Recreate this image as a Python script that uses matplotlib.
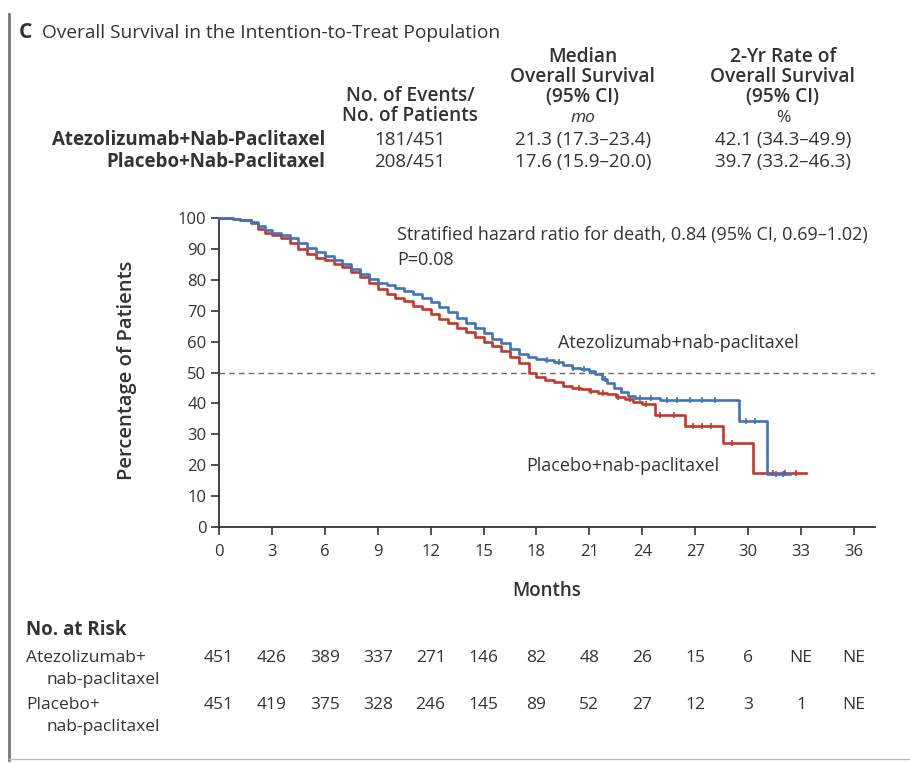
import matplotlib
matplotlib.use("Agg")
import matplotlib.pyplot as plt
import matplotlib.transforms as mtransforms
from matplotlib.lines import Line2D

plt.rcParams["font.family"] = ["Open Sans", "DejaVu Sans"]

# --- data ------------------------------------------------------------------
atezo_t = [0, 0.8, 1.2, 1.8, 2.2, 2.6, 3.0, 3.5, 4.0, 4.5, 5.0, 5.5, 6.0, 6.5, 7.0, 7.5,
           8.0, 8.5, 9.0, 9.5, 10.0, 10.5, 11.0, 11.5, 12.0, 12.5, 13.0, 13.5, 14.0, 14.5,
           15.0, 15.5, 16.0, 16.5, 17.0, 17.5, 18.0, 18.5, 19.0, 19.5, 20.0, 20.5, 21.0,
           21.3, 21.7, 22.0, 22.4, 22.8, 23.2, 23.6, 25.0, 29.5, 31.1, 32.4]
atezo_s = [100, 99.6, 99.3, 98.6, 97.4, 96.0, 95.0, 94.4, 93.4, 92.0, 90.4, 89.0, 87.6,
           86.5, 85.0, 83.5, 82.0, 80.2, 79.0, 78.4, 77.5, 76.5, 75.4, 74.0, 72.8, 71.3,
           69.5, 67.6, 66.0, 64.4, 62.8, 61.0, 59.4, 57.6, 56.0, 55.0, 54.4, 54.0, 53.4,
           52.5, 51.6, 51.0, 50.4, 49.4, 48.0, 46.5, 45.0, 43.6, 42.4, 41.8, 41.0, 34.2,
           17.3, 17.3]
atezo_cens = [18.6, 19.3, 20.1, 20.7, 21.9, 23.9, 24.5, 25.4, 26.0, 26.7, 27.4, 28.1,
              29.9, 30.4, 31.6, 32.0]

placebo_t = [0, 0.8, 1.2, 1.8, 2.2, 2.6, 3.0, 3.5, 4.0, 4.5, 5.0, 5.5, 6.0, 6.5, 7.0, 7.5,
             8.0, 8.5, 9.0, 9.5, 10.0, 10.5, 11.0, 11.5, 12.0, 12.5, 13.0, 13.5, 14.0, 14.5,
             15.0, 15.5, 16.0, 16.5, 17.0, 17.6, 18.0, 18.5, 19.0, 19.5, 20.0, 20.5, 21.0,
             21.5, 22.0, 22.5, 23.0, 23.5, 24.0, 24.7, 26.4, 28.6, 30.3, 33.3]
placebo_s = [100, 99.6, 99.2, 98.3, 96.4, 95.0, 94.4, 93.4, 92.0, 90.0, 88.2, 87.0, 86.4,
             85.0, 84.0, 82.4, 81.0, 79.0, 77.0, 75.4, 74.0, 73.0, 71.5, 70.4, 69.0, 67.4,
             66.0, 64.4, 63.0, 61.4, 60.0, 58.5, 57.0, 55.0, 53.0, 50.0, 48.6, 47.6, 47.0,
             45.6, 45.0, 44.5, 44.0, 43.4, 43.0, 42.0, 41.4, 40.4, 39.8, 36.4, 32.6, 27.2,
             17.6, 17.6]
placebo_cens = [20.4, 21.1, 21.8, 22.6, 23.3, 24.2, 25.0, 25.8, 26.9, 27.4, 27.9, 29.1,
                31.4, 32.1, 32.7]

risk_months = [0, 3, 6, 9, 12, 15, 18, 21, 24, 27, 30, 33, 36]
risk_atezo = ["451", "426", "389", "337", "271", "146", "82", "48", "26", "15", "6", "NE", "NE"]
risk_placebo = ["451", "419", "375", "328", "246", "145", "89", "52", "27", "12", "3", "1", "NE"]

BLUE = "#3f74b9"
RED = "#c4382c"
INK = "#333333"

W, H = 910, 763
fig = plt.figure(figsize=(W / 100, H / 100), dpi=100)


def px(x, y):
    # pixel position (from top-left) -> figure fraction
    return x / W, 1 - y / H


ax = fig.add_axes([219 / W, 1 - 527 / H, 656 / W, 309 / H])

ax.step(atezo_t, atezo_s, where="post", color=BLUE, lw=1.9, clip_on=False, zorder=3)
ax.step(placebo_t, placebo_s, where="post", color=RED, lw=1.9, clip_on=False, zorder=2)


def surv_at(ts, ss, t):
    val = ss[0]
    for ti, si in zip(ts, ss):
        if ti <= t:
            val = si
    return val


ax.plot(atezo_cens, [surv_at(atezo_t, atezo_s, t) for t in atezo_cens], ls="none",
        marker="|", ms=5, mew=1.2, color=BLUE, zorder=3)
ax.plot(placebo_cens, [surv_at(placebo_t, placebo_s, t) for t in placebo_cens], ls="none",
        marker="|", ms=5, mew=1.2, color=RED, zorder=2)

ax.axhline(50, color="#666666", lw=1.0, ls=(0, (4, 3)), zorder=1)

ax.set_xlim(0, 37.2)
ax.set_ylim(0, 100)
ax.set_xticks(risk_months)
ax.set_yticks(range(0, 101, 10))
for s in ["top", "right"]:
    ax.spines[s].set_visible(False)
for s in ["left", "bottom"]:
    ax.spines[s].set_color(INK)
    ax.spines[s].set_linewidth(1.3)
ax.tick_params(axis="both", direction="out", length=6, width=1.2, color=INK,
               labelsize=12, labelcolor=INK, pad=3)
ax.tick_params(axis="x", pad=6)

fig.text(*px(127, 370), "Percentage of Patients", rotation=90, fontsize=14.5,
         fontweight="semibold", color=INK, ha="center", va="center")
fig.text(*px(547, 591), "Months", fontsize=13.5, fontweight="semibold", color=INK,
         ha="center", va="center")

ann = dict(fontsize=13, color=INK, va="center")
ax.text(10.1, 94.5, "Stratified hazard ratio for death, 0.84 (95% CI, 0.69\u20131.02)", **ann)
ax.text(10.1, 86.3, "P=0.08", **ann)
ax.text(19.2, 59.5, "Atezolizumab+nab-paclitaxel", **ann)
ax.text(17.4, 19.8, "Placebo+nab-paclitaxel", **ann)

# --- header -----------------------------------------------------------------
fig.text(*px(19, 33), "C", fontsize=15, fontweight="bold", color=INK, va="center")
fig.text(*px(42, 33), "Overall Survival in the Intention-to-Treat Population",
         fontsize=13.8, color=INK, va="center")

hdr = dict(fontsize=13.8, color=INK, ha="center", va="center", fontweight="semibold")
fig.text(*px(410, 96), "No. of Events/", **hdr)
fig.text(*px(410, 116), "No. of Patients", **hdr)
fig.text(*px(583, 57), "Median", **hdr)
fig.text(*px(583, 77), "Overall Survival", **hdr)
fig.text(*px(583, 97), "(95% CI)", **hdr)
fig.text(*px(783, 57), "2-Yr Rate of", **hdr)
fig.text(*px(783, 77), "Overall Survival", **hdr)
fig.text(*px(783, 97), "(95% CI)", **hdr)
fig.text(*px(583, 118), "mo", fontsize=12.5, style="italic", color=INK, ha="center", va="center")
fig.text(*px(783, 118), "%", fontsize=12.5, color=INK, ha="center", va="center")

row = dict(fontsize=13.5, color=INK, va="center")
fig.text(*px(325, 140), "Atezolizumab+Nab-Paclitaxel", ha="right", fontweight="bold", **row)
fig.text(*px(325, 162), "Placebo+Nab-Paclitaxel", ha="right", fontweight="bold", **row)
fig.text(*px(410, 140), "181/451", ha="center", **row)
fig.text(*px(410, 162), "208/451", ha="center", **row)
fig.text(*px(583, 140), "21.3 (17.3\u201323.4)", ha="center", **row)
fig.text(*px(583, 162), "17.6 (15.9\u201320.0)", ha="center", **row)
fig.text(*px(783, 140), "42.1 (34.3\u201349.9)", ha="center", **row)
fig.text(*px(783, 162), "39.7 (33.2\u201346.3)", ha="center", **row)

# --- number at risk ---------------------------------------------------------
fig.text(*px(26, 630), "No. at Risk", fontsize=13.5, fontweight="bold", color=INK, va="center")
fig.text(*px(26, 658), "Atezolizumab+", fontsize=12.5, color=INK, va="center")
fig.text(*px(46, 680), "nab-paclitaxel", fontsize=12.5, color=INK, va="center")
fig.text(*px(26, 705), "Placebo+", fontsize=12.5, color=INK, va="center")
fig.text(*px(46, 727), "nab-paclitaxel", fontsize=12.5, color=INK, va="center")

trans = mtransforms.blended_transform_factory(ax.transData, fig.transFigure)
for m, a, p in zip(risk_months, risk_atezo, risk_placebo):
    ax.text(m, 1 - 658 / H, a, transform=trans, ha="center", va="center", fontsize=12.5,
            color=INK, clip_on=False)
    ax.text(m, 1 - 705 / H, p, transform=trans, ha="center", va="center", fontsize=12.5,
            color=INK, clip_on=False)

# frame lines on the left and bottom of the panel
fig.add_artist(Line2D([9 / W, 9 / W], [1 - 14 / H, 1 - 760 / H], color="#777777", lw=2,
                      transform=fig.transFigure))
fig.add_artist(Line2D([9 / W, 1], [1 - 759 / H, 1 - 759 / H], color="#bbbbbb", lw=1,
                      transform=fig.transFigure))

fig.savefig("out.png", dpi=100)
